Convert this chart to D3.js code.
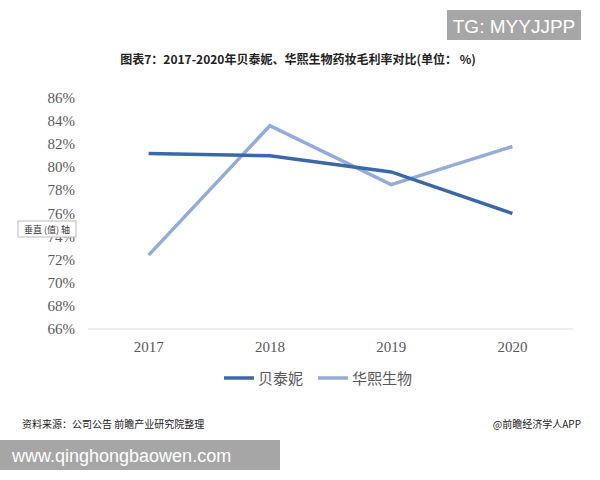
<!DOCTYPE html><html><head><meta charset="utf-8"><script src="https://cdn.jsdelivr.net/npm/d3@7"></script>
<style>body{margin:0;background:#fff}</style></head><body><svg id="c" width="600" height="480"></svg>
<script>
const years=["2017","2018","2019","2020"];
const bei=[81.2,81.0,79.6,76.0];
const hua=[72.4,83.6,78.5,81.8];
const yTicks=[66,68,70,72,74,76,78,80,82,84,86];
const svg=d3.select("#c");
const cjk="'Noto Sans CJK SC',sans-serif";
svg.append("rect").attr("x",447).attr("y",10).attr("width",134).attr("height",30).attr("fill","#a6a6a6");
svg.append("text").attr("x",514).attr("y",33).attr("text-anchor","middle").attr("fill","#fff").attr("font-family","Liberation Sans,sans-serif").attr("font-size",19).text("TG: MYYJJPP");
svg.append("text").attr("x",298).attr("y",64).attr("text-anchor","middle").attr("font-family",cjk).attr("font-weight","bold").attr("font-size",12).attr("fill","#222").text("图表7：2017-2020年贝泰妮、华熙生物药妆毛利率对比(单位： %)");
const x=d3.scaleBand().domain(years).range([88,573]);
const y=d3.scaleLinear().domain([66,86]).range([329,98]);
svg.append("line").attr("x1",88).attr("x2",573).attr("y1",329).attr("y2",329).attr("stroke","#d9d9d9");
svg.append("g").selectAll("text").data(yTicks).join("text").attr("x",75).attr("y",d=>y(d)+5).attr("text-anchor","end").attr("font-family","Liberation Serif,serif").attr("font-size",15).attr("fill","#595959").text(d=>d+"%");
svg.append("g").selectAll("text").data(years).join("text").attr("x",d=>x(d)+x.bandwidth()/2).attr("y",352).attr("text-anchor","middle").attr("font-family","Liberation Serif,serif").attr("font-size",15).attr("fill","#595959").text(d=>d);
const line=d3.line().x((d,i)=>x(years[i])+x.bandwidth()/2).y(d=>y(d));
svg.append("path").attr("d",line(hua)).attr("fill","none").attr("stroke","#94acd8").attr("stroke-width",3.5);
svg.append("path").attr("d",line(bei)).attr("fill","none").attr("stroke","#3b69a8").attr("stroke-width",3.5);
svg.append("rect").attr("x",18).attr("y",221).attr("width",58).attr("height",16).attr("fill","#fff").attr("stroke","#bbb");
svg.append("text").attr("x",47).attr("y",233).attr("text-anchor","middle").attr("font-family",cjk).attr("font-size",9).attr("fill","#333").text("垂直 (值) 轴");
const lg=[["贝泰妮","#3b69a8",224],["华熙生物","#94acd8",318]];
lg.forEach(([t,c,lx])=>{svg.append("line").attr("x1",lx).attr("x2",lx+30).attr("y1",378).attr("y2",378).attr("stroke",c).attr("stroke-width",3.5);
svg.append("text").attr("x",lx+34).attr("y",384).attr("font-family",cjk).attr("font-size",15).attr("fill","#595959").text(t);});
svg.append("text").attr("x",22).attr("y",428).attr("font-family",cjk).attr("font-size",10).attr("fill","#222").text("资料来源：公司公告 前瞻产业研究院整理");
svg.append("text").attr("x",581).attr("y",428).attr("text-anchor","end").attr("font-family",cjk).attr("font-size",10).attr("fill","#222").text("@前瞻经济学人APP");
svg.append("rect").attr("x",0).attr("y",440).attr("width",280).attr("height",30).attr("fill","#a6a6a6");
svg.append("text").attr("x",12).attr("y",462).attr("fill","#fff").attr("font-family","Liberation Sans,sans-serif").attr("font-size",18).text("www.qinghongbaowen.com");
</script></body></html>
